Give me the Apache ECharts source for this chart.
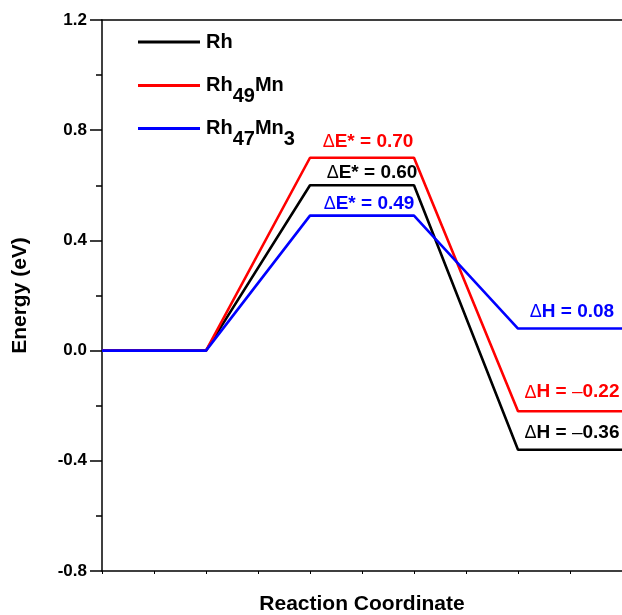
<!DOCTYPE html>
<html>
<head>
<meta charset="utf-8">
<script src="https://cdn.jsdelivr.net/npm/echarts@6/dist/echarts.min.js"></script>
<style>html,body{margin:0;padding:0;background:#fff;}#c{width:622px;height:615px;}</style>
</head>
<body>
<div id="c"></div>
<script>
// Reaction coordinate positions (stages)
var stages = [0, 1, 2, 3, 4, 5];
// Energies (eV) for each series at each stage
var rhEnergy = [0, 0, 0.60, 0.60, -0.36, -0.36];
var rh49MnEnergy = [0, 0, 0.70, 0.70, -0.22, -0.22];
var rh47Mn3Energy = [0, 0, 0.49, 0.49, 0.08, 0.08];
var seriesNames = ['Rh', 'Rh49Mn', 'Rh47Mn3'];
var seriesColors = ['#000000', '#ff0000', '#0000ff'];
// Annotations: barrier and reaction energy labels
var barrierLabels = ['0.60', '0.70', '0.49'];
var enthalpyLabels = ['\u22120.36', '\u22120.22', '0.08'];
var yTicks = [-0.8, -0.4, 0.0, 0.4, 0.8, 1.2];

var FONT = '"Liberation Sans", Arial, sans-serif';

function pairs(ys) { return stages.map(function (x, i) { return [x, ys[i]]; }); }

var allData = [rhEnergy, rh49MnEnergy, rh47Mn3Energy];
var eOffsets = [[10, -13], [6, -16], [7, -12]];
var hOffsets = [[2, -17], [2, -19], [2, -17]];

function annot(text, isH) {
  var parts = text.split(' = ');
  var val = parts[1];
  var s = isH ? '{d|\u0394}{t|H = }' : '{d|\u0394}{t|E* = }';
  if (val.charAt(0) === '\u2212') s += '{m|\u2013}{t|' + val.slice(1) + '}';
  else s += '{t|' + val + '}';
  return s;
}

var series = allData.map(function (ys, k) {
  var c = seriesColors[k];
  var rich = {
    d: { fontFamily: FONT, fontSize: 18, fontWeight: 'normal', color: c, lineHeight: 22, verticalAlign: 'middle', padding: [1, 0, 0, 0] },
    t: { fontFamily: FONT, fontSize: 19, fontWeight: 'bold', color: c, lineHeight: 22, verticalAlign: 'middle' },
    m: { fontFamily: FONT, fontSize: 19, fontWeight: 'normal', color: c, lineHeight: 22, verticalAlign: 'middle' }
  };
  return {
    name: seriesNames[k],
    type: 'line',
    data: pairs(ys),
    symbol: 'none',
    showSymbol: false,
    animation: false,
    lineStyle: { color: c, width: 2.6 },
    itemStyle: { color: c },
    z: 2 + k,
    markPoint: {
      symbol: 'circle',
      symbolSize: 0,
      animation: false,
      data: [
        {
          coord: [(stages[2] + stages[3]) / 2, ys[2]],
          label: { show: true, position: 'inside', offset: eOffsets[k],
            formatter: annot('E = ' + barrierLabels[k], false), rich: rich }
        },
        {
          coord: [(stages[4] + stages[5]) / 2, ys[4]],
          label: { show: true, position: 'inside', offset: hOffsets[k],
            formatter: annot('H = ' + enthalpyLabels[k], true), rich: rich }
        }
      ]
    }
  };
});

var legendRich = {
  n: { fontFamily: FONT, fontSize: 20, fontWeight: 'bold', color: '#000', lineHeight: 40, verticalAlign: 'middle' },
  s: { fontFamily: FONT, fontSize: 20, fontWeight: 'bold', color: '#000', lineHeight: 20, padding: [21, 0, 0, 0], verticalAlign: 'middle' }
};
var legendFmt = {
  'Rh': '{n|Rh}',
  'Rh49Mn': '{n|Rh}{s|49}{n|Mn}',
  'Rh47Mn3': '{n|Rh}{s|47}{n|Mn}{s|3}'
};
var legendTops = [32, 65, 108];
var legends = seriesNames.map(function (nm, k) {
  return {
    data: [nm],
    left: 138,
    top: legendTops[k],
    padding: 0,
    icon: 'rect',
    itemWidth: 62,
    itemHeight: 3,
    itemGap: 0,
    selectedMode: false,
    formatter: function (name) { return legendFmt[name]; },
    textStyle: { rich: legendRich, padding: [0, 0, 0, 1] }
  };
});

var chart = echarts.init(document.getElementById('c'), null, { renderer: 'canvas' });
chart.setOption({
  animation: false,
  backgroundColor: '#fff',
  grid: { left: 102, right: 0, top: 20, bottom: 44, containLabel: false, outerBoundsMode: 'none' },
  legend: legends,
  xAxis: [
    {
      type: 'value', min: 0, max: 5, interval: 0.5,
      name: 'Reaction Coordinate', nameLocation: 'middle', nameGap: 23,
      nameTextStyle: { fontFamily: FONT, fontSize: 21, fontWeight: 'bold', color: '#000' },
      axisLine: { show: true, onZero: false, lineStyle: { color: '#000', width: 1.5 } },
      axisTick: { show: true, length: 3, lineStyle: { color: '#000', width: 1 } },
      axisLabel: { show: false },
      splitLine: { show: false }
    },
    {
      type: 'value', min: 0, max: 5, position: 'top',
      axisLine: { show: true, onZero: false, lineStyle: { color: '#000', width: 1.5 } },
      axisTick: { show: false }, axisLabel: { show: false }, splitLine: { show: false }
    }
  ],
  yAxis: {
    type: 'value', min: yTicks[0], max: yTicks[yTicks.length - 1], interval: 0.4,
    name: 'Energy (eV)', nameLocation: 'middle', nameGap: 71, nameRotate: 90,
    nameTextStyle: { fontFamily: FONT, fontSize: 21, fontWeight: 'bold', color: '#000' },
    axisLine: { show: true, onZero: false, lineStyle: { color: '#000', width: 1.5 } },
    axisTick: { show: true, length: 12, inside: false, lineStyle: { color: '#000', width: 1.5 } },
    minorTick: { show: true, splitNumber: 2, length: 6, lineStyle: { color: '#000', width: 1.5 } },
    axisLabel: { fontFamily: FONT, fontSize: 17, fontWeight: 'bold', color: '#000', margin: 15,
      formatter: function (v) { return v.toFixed(1); } },
    splitLine: { show: false }
  },
  series: series
});
</script>
</body>
</html>
